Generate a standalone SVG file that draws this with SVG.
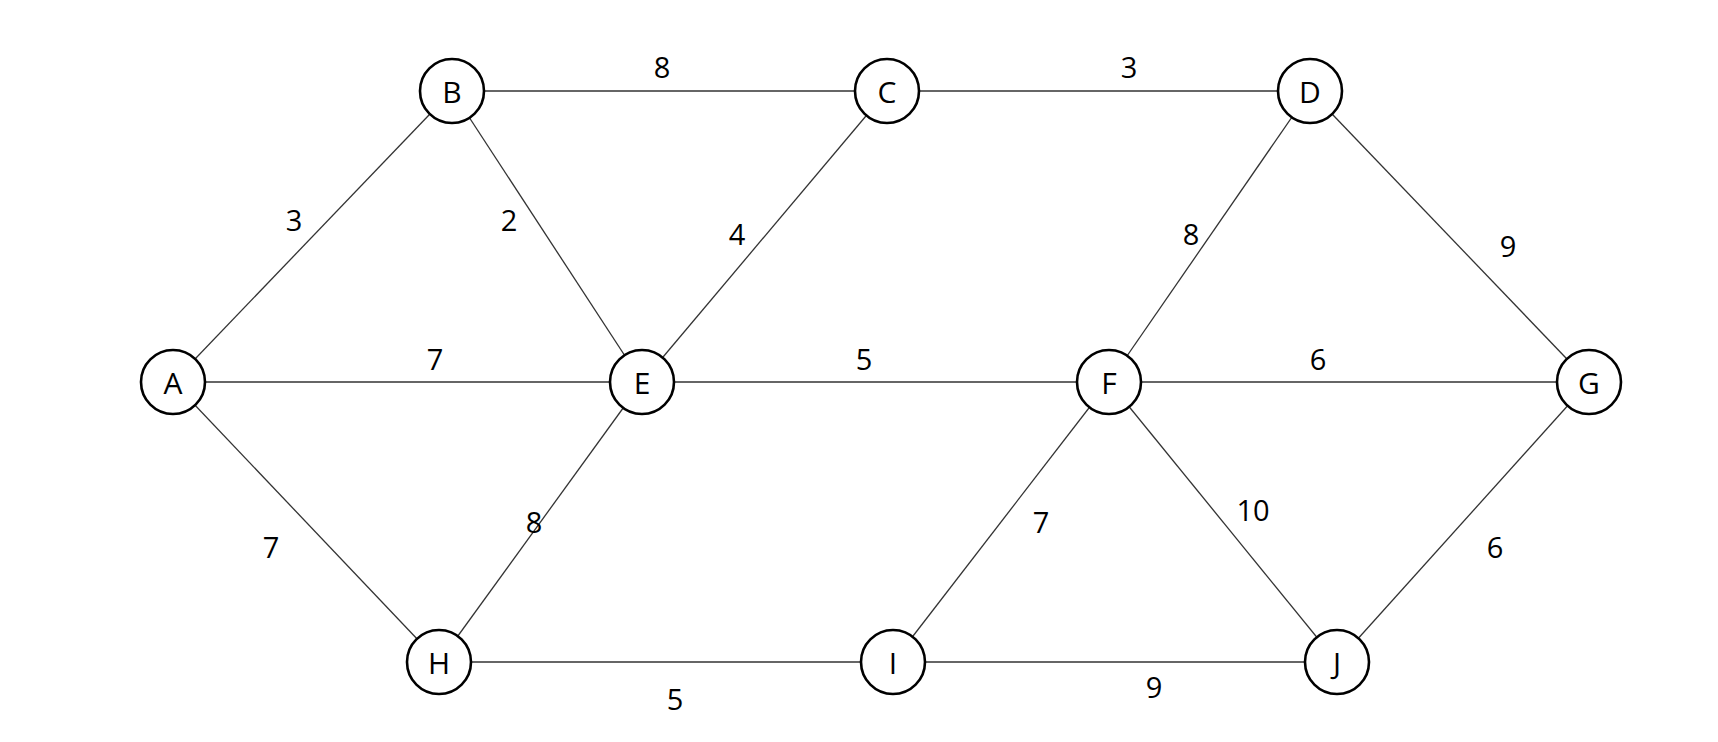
<svg xmlns="http://www.w3.org/2000/svg" width="1718" height="742" viewBox="0 0 1718 742">
<style>
.e{stroke:#333;stroke-width:1.3;fill:none}
.n circle{fill:#fff;stroke:#000;stroke-width:2.6}
.n text{font-family:"Open Sans","Liberation Sans",sans-serif;font-size:30px;text-anchor:middle;dominant-baseline:central;fill:#000}
.l{font-family:"Open Sans","Liberation Sans",sans-serif;font-size:29px;text-anchor:middle;dominant-baseline:central;fill:#000}
</style>
<rect width="1718" height="742" fill="#fff"/>
<g id="edges">
<line class="e" x1="452" y1="91" x2="887" y2="91"/>
<line class="e" x1="887" y1="91" x2="1310" y2="91"/>
<line class="e" x1="173" y1="382" x2="452" y2="91"/>
<line class="e" x1="452" y1="91" x2="642" y2="382"/>
<line class="e" x1="887" y1="91" x2="642" y2="382"/>
<line class="e" x1="1310" y1="91" x2="1109" y2="382"/>
<line class="e" x1="1310" y1="91" x2="1589" y2="382"/>
<line class="e" x1="173" y1="382" x2="642" y2="382"/>
<line class="e" x1="642" y1="382" x2="1109" y2="382"/>
<line class="e" x1="1109" y1="382" x2="1589" y2="382"/>
<line class="e" x1="173" y1="382" x2="439" y2="662"/>
<line class="e" x1="642" y1="382" x2="439" y2="662"/>
<line class="e" x1="1109" y1="382" x2="893" y2="662"/>
<line class="e" x1="1109" y1="382" x2="1337" y2="662"/>
<line class="e" x1="1589" y1="382" x2="1337" y2="662"/>
<line class="e" x1="439" y1="662" x2="893" y2="662"/>
<line class="e" x1="893" y1="662" x2="1337" y2="662"/>
<text class="l" x="662" y="66">8</text>
<text class="l" x="1129" y="66">3</text>
<text class="l" x="294" y="219">3</text>
<text class="l" x="509" y="219">2</text>
<text class="l" x="737" y="233">4</text>
<text class="l" x="1191" y="233">8</text>
<text class="l" x="1508" y="245">9</text>
<text class="l" x="435" y="358">7</text>
<text class="l" x="864" y="358">5</text>
<text class="l" x="1318" y="358">6</text>
<text class="l" x="271" y="546">7</text>
<text class="l" x="534" y="521">8</text>
<text class="l" x="1041" y="521">7</text>
<text class="l" x="1253" y="509">10</text>
<text class="l" x="1495" y="546">6</text>
<text class="l" x="675" y="698">5</text>
<text class="l" x="1154" y="686">9</text>
</g>
<g id="A" class="n"><circle cx="173" cy="382" r="32"/><text x="173" y="382">A</text></g>
<g id="B" class="n"><circle cx="452" cy="91" r="32"/><text x="452" y="91">B</text></g>
<g id="C" class="n"><circle cx="887" cy="91" r="32"/><text x="887" y="91">C</text></g>
<g id="D" class="n"><circle cx="1310" cy="91" r="32"/><text x="1310" y="91">D</text></g>
<g id="E" class="n"><circle cx="642" cy="382" r="32"/><text x="642" y="382">E</text></g>
<g id="F" class="n"><circle cx="1109" cy="382" r="32"/><text x="1109" y="382">F</text></g>
<g id="G" class="n"><circle cx="1589" cy="382" r="32"/><text x="1589" y="382">G</text></g>
<g id="H" class="n"><circle cx="439" cy="662" r="32"/><text x="439" y="662">H</text></g>
<g id="I" class="n"><circle cx="893" cy="662" r="32"/><text x="893" y="662">I</text></g>
<g id="J" class="n"><circle cx="1337" cy="662" r="32"/><text x="1337" y="662">J</text></g>
</svg>
